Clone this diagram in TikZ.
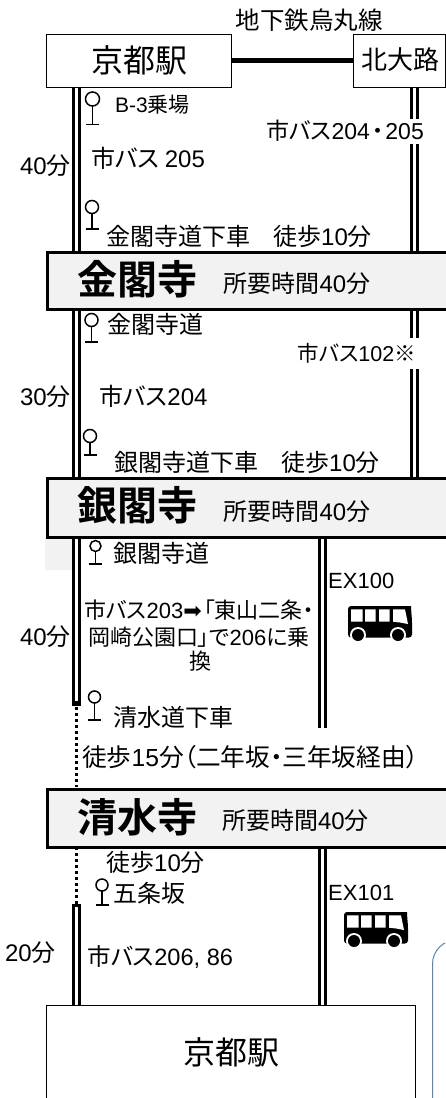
\documentclass[tikz,border=0pt]{standalone}
\usepackage{fontspec}
\setmainfont[RawFeature=+palt,BoldFont={Noto Sans CJK JP Bold}]{Noto Sans CJK JP}
\newfontfamily\latf{Liberation Sans}
\newfontfamily\symf{DejaVu Sans}
\newcommand{\lt}[1]{{\latf #1}}
\newcommand{\fs}[1]{\fontsize{#1}{#1}\selectfont}
\definecolor{boxgray}{HTML}{F2F2F2}
\definecolor{noteblue}{HTML}{5B85B5}
\tikzset{
  rail/.style={draw=black,line width=3pt,double=white,double distance=3pt,line cap=rect},
  walk/.style={draw=black,line width=3pt,dash pattern=on 3pt off 3pt},
  thinbox/.style={draw=black,line width=1pt,fill=white},
  sitebox/.style={draw=black,line width=3pt,fill=boxgray},
  lab/.style={inner sep=0pt,text=black},
  gaplab/.style={fill=white,inner xsep=0pt,inner ysep=0pt},
  stopmark/.style={draw=black,line width=1.5pt},
}
\newcommand{\busstop}[4]{%
  \draw[stopmark] (#1,#2) circle (#3);
  \draw[stopmark] (#1,#2+#3) -- (#1,#4);
  \draw[stopmark] (#1-6.5,#4) -- (#1+6.5,#4);
}
\newcommand{\busicon}[2]{%
  \begin{scope}[shift={(#1,#2)}]
    \fill[black,rounded corners=3pt] (0,0) -- (60,0) .. controls (63,0) and (63,3) .. (64,14) -- (64,31.5) -- (0,31.5) -- cycle;
    \fill[white] (3,3.3) rectangle (14.5,15.7) (17,3.3) rectangle (27.5,15.7) (31,3.3) rectangle (41.5,15.7);
    \fill[white] (45,3.3) -- (57,3.3) -- (60,18) -- (52,16.5) -- (45,15.7) -- cycle;
    \fill[white] (10,29) circle (8) (50,29) circle (8);
    \fill[black] (10,29) circle (6) (50,29) circle (6);
  \end{scope}
}
\begin{document}
\begin{tikzpicture}[x=1pt,y=-1pt]
\useasboundingbox (0,0) rectangle (445,1098);
\fill[white] (0,0) rectangle (445,1098);
\fill[boxgray] (45,537) rectangle (72,570);

\coordinate (a1) at (76.5,86);  \coordinate (a2) at (76.5,250);
\coordinate (a3) at (76.5,307); \coordinate (a4) at (76.5,476);
\coordinate (a5) at (76.5,537); \coordinate (a6) at (76.5,701);
\coordinate (a7) at (76.5,787); \coordinate (a8) at (76.5,847);
\coordinate (a9) at (76.5,908); \coordinate (a10) at (76.5,1005);
\coordinate (b1) at (414.5,86); \coordinate (b2) at (414.5,250);
\coordinate (b3) at (414.5,307);\coordinate (b4) at (414.5,476);
\coordinate (c1) at (322.5,537);\coordinate (c2) at (322.5,728);
\coordinate (c3) at (322.5,847);\coordinate (c4) at (322.5,1005);

\draw[rail] (a1) -- (a2);
\draw[rail] (a3) -- (a4);
\draw[rail] (a5) -- (a6);
\draw[walk] (a6) -- (a7);
\draw[walk] (a8) -- (a9);
\draw[rail] (a9) -- (a10);
\draw[rail] (b1) -- (b2);
\draw[rail] (b3) -- (b4);
\draw[rail,line cap=butt] (c1) -- (c2);
\draw[rail] (c3) -- (c4);

\begin{scope}
\clip (0,0) rectangle (445,1098);
\draw[noteblue,line width=1pt,rounded corners=24pt] (432.5,940) rectangle (520,1125);
\end{scope}

\node[thinbox,minimum width=185pt,minimum height=53pt,inner sep=0pt,anchor=north west] (kyoto) at (45.5,33.5) {};
\node[thinbox,minimum width=92pt,minimum height=53pt,inner sep=0pt,anchor=north west] (kita) at (353,33.5) {};
\draw[line width=5pt] (kyoto.east) -- (kita.west);
\node[sitebox,minimum width=400pt,minimum height=57pt,inner sep=0pt,anchor=north west] (kinkaku) at (45.5,250.5) {};
\node[sitebox,minimum width=400pt,minimum height=59pt,inner sep=0pt,anchor=north west] (ginkaku) at (45.5,477) {};
\node[sitebox,minimum width=400pt,minimum height=58pt,inner sep=0pt,anchor=north west] (kiyomizu) at (45.5,788) {};
\begin{scope}
\clip (0,0) rectangle (445,1098);
\node[thinbox,minimum width=369pt,minimum height=120pt,inner sep=0pt,anchor=north west] (kyoto2) at (45.5,1005) {};
\end{scope}

\busstop{92.5}{99}{7}{124.5}
\busstop{92}{207}{6.5}{229}
\busstop{91.5}{320}{6.5}{342}
\busstop{90}{436}{6.5}{455}
\busstop{95.5}{546}{5.5}{564}
\busstop{94.5}{697}{6}{720}
\busstop{102}{885}{6}{905}

\busicon{348}{606}
\busicon{344}{912}

\node[lab] (t1) at (139,60) {\fs{32}京都駅};
\node[lab] (t2) at (400,60) {\fs{26}北大路};
\node[lab] (t3) at (309,20) {\fs{24.5}地下鉄烏丸線};
\node[lab,anchor=west] (t4) at (115,105) {\fs{21}\lt{B-3}乗場};
\node[gaplab,anchor=east,minimum height=25pt] (t5) at (424,131) {\fs{23}市バス\lt{204}\hspace{2pt}・\hspace{2pt}\lt{205}};
\node[lab,anchor=west] (t6) at (91,158) {\fs{24}市バス \lt{205}};
\node[lab,anchor=east] (t7) at (71,166) {\fs{24}\lt{40}分};
\node[lab,anchor=west] (t8) at (106,236) {\fs{24}金閣寺道下車\hspace{23pt}徒歩\lt{10}分};
\node[lab,font=\bfseries] (t9) at (137.5,279) {\fs{40}金閣寺};
\node[lab] (t10) at (297,283) {\fs{24}所要時間\lt{40}分};
\node[lab,anchor=west] (t11) at (107,324) {\fs{24}金閣寺道};
\node[gaplab,anchor=east,minimum height=31pt,inner xsep=3pt] (t12) at (419,353) {\fs{21.5}市バス\lt{102}※\hspace{3pt}};
\node[lab,anchor=east] (t13) at (71,397) {\fs{24}\lt{30}分};
\node[lab,anchor=west] (t14) at (99,396) {\fs{24}市バス\lt{204}};
\node[lab,anchor=west] (t15) at (114,462) {\fs{24}銀閣寺道下車\hspace{23pt}徒歩\lt{10}分};
\node[lab,font=\bfseries] (t16) at (137,505) {\fs{40}銀閣寺};
\node[lab] (t17) at (297,511) {\fs{24}所要時間\lt{40}分};
\node[lab,anchor=west] (t18) at (113,553) {\fs{24}銀閣寺道};
\node[lab,anchor=west] (t19) at (328,581) {\fs{22}\lt{EX100}};
\node[lab] (t20) at (199,610) {\fs{22}市バス\lt{203}{\symf\fs{22}➡}\hspace{2pt}「東山二条・};
\node[lab] (t21) at (199,637) {\fs{22}岡崎公園口」で\lt{206}に乗};
\node[lab] (t22) at (200,661) {\fs{22}換};
\node[lab,anchor=east] (t23) at (71,637) {\fs{24}\lt{40}分};
\node[lab,anchor=west] (t24) at (113,717) {\fs{24}清水道下車};
\node[lab,anchor=west] (t25) at (82,757) {\fs{24.7}徒歩\lt{15}分（二年坂・三年坂経由）};
\node[lab,font=\bfseries] (t26) at (137,817) {\fs{40}清水寺};
\node[lab] (t27) at (295.5,820) {\fs{24}所要時間\lt{40}分};
\node[lab,anchor=west] (t28) at (106,862) {\fs{24}徒歩\lt{10}分};
\node[lab,anchor=west] (t29) at (113,893) {\fs{24}五条坂};
\node[lab,anchor=west] (t30) at (328,893) {\fs{22}\lt{EX101}};
\node[lab,anchor=east] (t31) at (56,953) {\fs{24}\lt{20}分};
\node[lab,anchor=west] (t32) at (87,957) {\fs{23.6}市バス\lt{206, 86}};
\node[lab] (t33) at (231.5,1052) {\fs{32}京都駅};
\end{tikzpicture}
\end{document}
